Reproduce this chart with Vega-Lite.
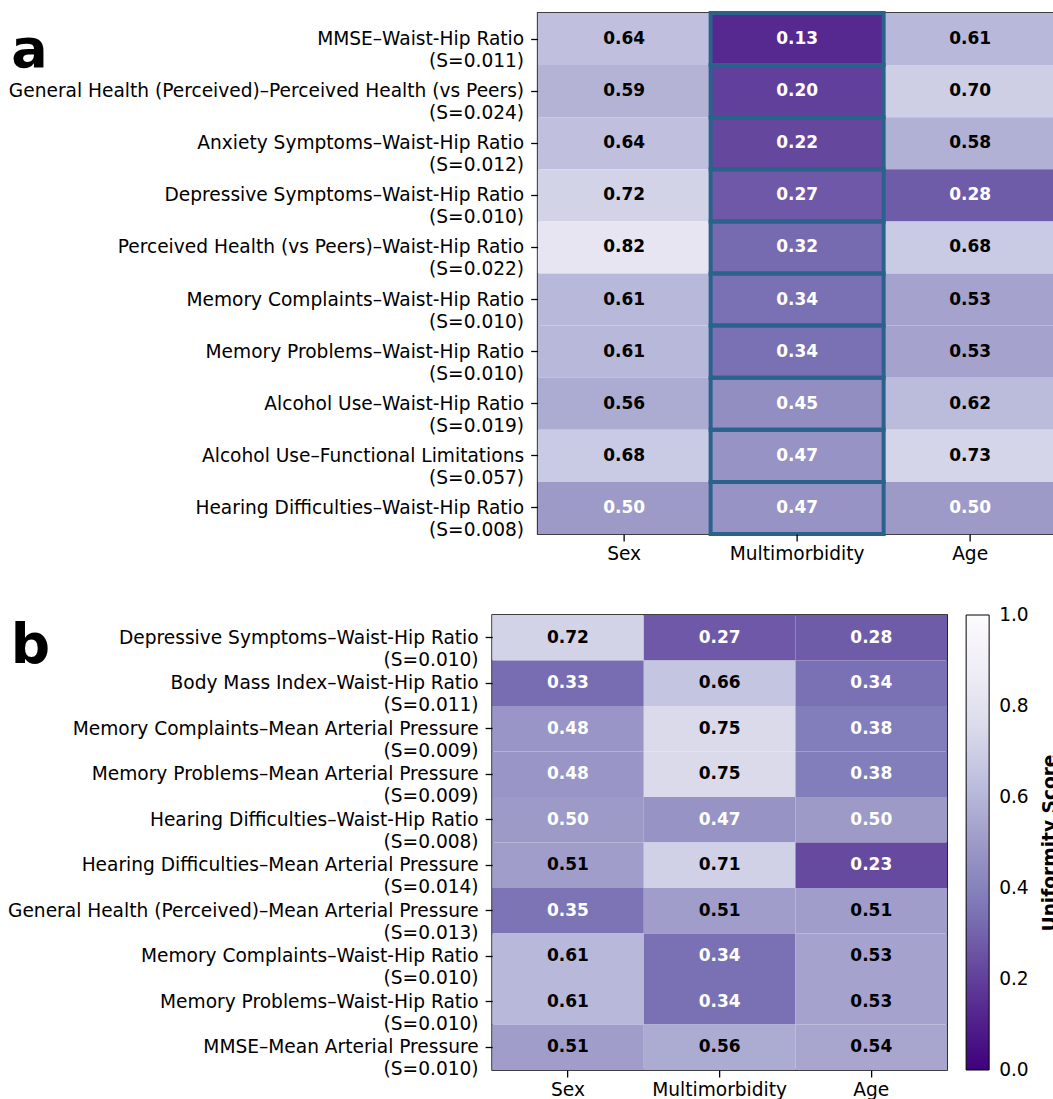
{
  "$schema": "https://vega.github.io/schema/vega-lite/v6.json",
  "padding": {"left": 6, "top": 10, "right": 0, "bottom": 0},
  "background": "white",
  "config": {
    "font": "DejaVu Sans",
    "view": {"stroke": "black", "strokeWidth": 1.5},
    "axis": {"labelFontSize": 18.6, "labelColor": "black", "tickColor": "black", "tickSize": 7, "tickWidth": 1.3, "domain": false, "labelPadding": 7, "grid": false, "labelLimit": 700}
  },
  "datasets": {
    "a": [
      {"pair": "MMSE–Waist-Hip Ratio\n(S=0.011)", "factor": "Sex", "v": 0.64},
      {"pair": "MMSE–Waist-Hip Ratio\n(S=0.011)", "factor": "Multimorbidity", "v": 0.13},
      {"pair": "MMSE–Waist-Hip Ratio\n(S=0.011)", "factor": "Age", "v": 0.61},
      {"pair": "General Health (Perceived)–Perceived Health (vs Peers)\n(S=0.024)", "factor": "Sex", "v": 0.59},
      {"pair": "General Health (Perceived)–Perceived Health (vs Peers)\n(S=0.024)", "factor": "Multimorbidity", "v": 0.20},
      {"pair": "General Health (Perceived)–Perceived Health (vs Peers)\n(S=0.024)", "factor": "Age", "v": 0.70},
      {"pair": "Anxiety Symptoms–Waist-Hip Ratio\n(S=0.012)", "factor": "Sex", "v": 0.64},
      {"pair": "Anxiety Symptoms–Waist-Hip Ratio\n(S=0.012)", "factor": "Multimorbidity", "v": 0.22},
      {"pair": "Anxiety Symptoms–Waist-Hip Ratio\n(S=0.012)", "factor": "Age", "v": 0.58},
      {"pair": "Depressive Symptoms–Waist-Hip Ratio\n(S=0.010)", "factor": "Sex", "v": 0.72},
      {"pair": "Depressive Symptoms–Waist-Hip Ratio\n(S=0.010)", "factor": "Multimorbidity", "v": 0.27},
      {"pair": "Depressive Symptoms–Waist-Hip Ratio\n(S=0.010)", "factor": "Age", "v": 0.28},
      {"pair": "Perceived Health (vs Peers)–Waist-Hip Ratio\n(S=0.022)", "factor": "Sex", "v": 0.82},
      {"pair": "Perceived Health (vs Peers)–Waist-Hip Ratio\n(S=0.022)", "factor": "Multimorbidity", "v": 0.32},
      {"pair": "Perceived Health (vs Peers)–Waist-Hip Ratio\n(S=0.022)", "factor": "Age", "v": 0.68},
      {"pair": "Memory Complaints–Waist-Hip Ratio\n(S=0.010)", "factor": "Sex", "v": 0.61},
      {"pair": "Memory Complaints–Waist-Hip Ratio\n(S=0.010)", "factor": "Multimorbidity", "v": 0.34},
      {"pair": "Memory Complaints–Waist-Hip Ratio\n(S=0.010)", "factor": "Age", "v": 0.53},
      {"pair": "Memory Problems–Waist-Hip Ratio\n(S=0.010)", "factor": "Sex", "v": 0.61},
      {"pair": "Memory Problems–Waist-Hip Ratio\n(S=0.010)", "factor": "Multimorbidity", "v": 0.34},
      {"pair": "Memory Problems–Waist-Hip Ratio\n(S=0.010)", "factor": "Age", "v": 0.53},
      {"pair": "Alcohol Use–Waist-Hip Ratio\n(S=0.019)", "factor": "Sex", "v": 0.56},
      {"pair": "Alcohol Use–Waist-Hip Ratio\n(S=0.019)", "factor": "Multimorbidity", "v": 0.45},
      {"pair": "Alcohol Use–Waist-Hip Ratio\n(S=0.019)", "factor": "Age", "v": 0.62},
      {"pair": "Alcohol Use–Functional Limitations\n(S=0.057)", "factor": "Sex", "v": 0.68},
      {"pair": "Alcohol Use–Functional Limitations\n(S=0.057)", "factor": "Multimorbidity", "v": 0.47},
      {"pair": "Alcohol Use–Functional Limitations\n(S=0.057)", "factor": "Age", "v": 0.73},
      {"pair": "Hearing Difficulties–Waist-Hip Ratio\n(S=0.008)", "factor": "Sex", "v": 0.50},
      {"pair": "Hearing Difficulties–Waist-Hip Ratio\n(S=0.008)", "factor": "Multimorbidity", "v": 0.47},
      {"pair": "Hearing Difficulties–Waist-Hip Ratio\n(S=0.008)", "factor": "Age", "v": 0.50}
    ],
    "b": [
      {"pair": "Depressive Symptoms–Waist-Hip Ratio\n(S=0.010)", "factor": "Sex", "v": 0.72},
      {"pair": "Depressive Symptoms–Waist-Hip Ratio\n(S=0.010)", "factor": "Multimorbidity", "v": 0.27},
      {"pair": "Depressive Symptoms–Waist-Hip Ratio\n(S=0.010)", "factor": "Age", "v": 0.28},
      {"pair": "Body Mass Index–Waist-Hip Ratio\n(S=0.011)", "factor": "Sex", "v": 0.33},
      {"pair": "Body Mass Index–Waist-Hip Ratio\n(S=0.011)", "factor": "Multimorbidity", "v": 0.66},
      {"pair": "Body Mass Index–Waist-Hip Ratio\n(S=0.011)", "factor": "Age", "v": 0.34},
      {"pair": "Memory Complaints–Mean Arterial Pressure\n(S=0.009)", "factor": "Sex", "v": 0.48},
      {"pair": "Memory Complaints–Mean Arterial Pressure\n(S=0.009)", "factor": "Multimorbidity", "v": 0.75},
      {"pair": "Memory Complaints–Mean Arterial Pressure\n(S=0.009)", "factor": "Age", "v": 0.38},
      {"pair": "Memory Problems–Mean Arterial Pressure\n(S=0.009)", "factor": "Sex", "v": 0.48},
      {"pair": "Memory Problems–Mean Arterial Pressure\n(S=0.009)", "factor": "Multimorbidity", "v": 0.75},
      {"pair": "Memory Problems–Mean Arterial Pressure\n(S=0.009)", "factor": "Age", "v": 0.38},
      {"pair": "Hearing Difficulties–Waist-Hip Ratio\n(S=0.008)", "factor": "Sex", "v": 0.50},
      {"pair": "Hearing Difficulties–Waist-Hip Ratio\n(S=0.008)", "factor": "Multimorbidity", "v": 0.47},
      {"pair": "Hearing Difficulties–Waist-Hip Ratio\n(S=0.008)", "factor": "Age", "v": 0.50},
      {"pair": "Hearing Difficulties–Mean Arterial Pressure\n(S=0.014)", "factor": "Sex", "v": 0.51},
      {"pair": "Hearing Difficulties–Mean Arterial Pressure\n(S=0.014)", "factor": "Multimorbidity", "v": 0.71},
      {"pair": "Hearing Difficulties–Mean Arterial Pressure\n(S=0.014)", "factor": "Age", "v": 0.23},
      {"pair": "General Health (Perceived)–Mean Arterial Pressure\n(S=0.013)", "factor": "Sex", "v": 0.35},
      {"pair": "General Health (Perceived)–Mean Arterial Pressure\n(S=0.013)", "factor": "Multimorbidity", "v": 0.51},
      {"pair": "General Health (Perceived)–Mean Arterial Pressure\n(S=0.013)", "factor": "Age", "v": 0.51},
      {"pair": "Memory Complaints–Waist-Hip Ratio\n(S=0.010)", "factor": "Sex", "v": 0.61},
      {"pair": "Memory Complaints–Waist-Hip Ratio\n(S=0.010)", "factor": "Multimorbidity", "v": 0.34},
      {"pair": "Memory Complaints–Waist-Hip Ratio\n(S=0.010)", "factor": "Age", "v": 0.53},
      {"pair": "Memory Problems–Waist-Hip Ratio\n(S=0.010)", "factor": "Sex", "v": 0.61},
      {"pair": "Memory Problems–Waist-Hip Ratio\n(S=0.010)", "factor": "Multimorbidity", "v": 0.34},
      {"pair": "Memory Problems–Waist-Hip Ratio\n(S=0.010)", "factor": "Age", "v": 0.53},
      {"pair": "MMSE–Mean Arterial Pressure\n(S=0.010)", "factor": "Sex", "v": 0.51},
      {"pair": "MMSE–Mean Arterial Pressure\n(S=0.010)", "factor": "Multimorbidity", "v": 0.56},
      {"pair": "MMSE–Mean Arterial Pressure\n(S=0.010)", "factor": "Age", "v": 0.54}
    ]
  },
  "center": true,
  "spacing": 50,
  "vconcat": [
    {
      "width": 519,
      "height": 521,
      "data": {"name": "a"},
      "encoding": {
        "x": {"field": "factor", "type": "nominal", "sort": ["Sex", "Multimorbidity", "Age"], "axis": {"title": null, "labelAngle": 0, "labelPadding": 3}},
        "y": {"field": "pair", "type": "nominal", "sort": null, "axis": {"labelExpr": "split(datum.label, '\\n')", "labelLineHeight": 22, "title": "a", "titleAngle": 0, "titleFontSize": 54, "titleFontWeight": "bold", "titleColor": "black", "titleAlign": "left", "titleBaseline": "alphabetic", "titleX": -527, "titleY": 53}}
      },
      "layer": [
        {"mark": {"type": "rect"}, "encoding": {"color": {"field": "v", "type": "quantitative", "scale": {"domain": [0, 0.125, 0.25, 0.375, 0.5, 0.625, 0.75, 0.875, 1], "range": ["#3f007d", "#54278f", "#6a51a3", "#807dba", "#9e9ac8", "#bcbddc", "#dadaeb", "#efedf5", "#fcfbfd"], "interpolate": "rgb"}, "legend": null}}},
        {"transform": [{"filter": "datum.factor === 'Multimorbidity'"}], "mark": {"type": "rect", "fillOpacity": 0, "stroke": "#2b628c", "strokeWidth": 4}},
        {"mark": {"type": "text", "fontSize": 17, "fontWeight": "bold"}, "encoding": {"text": {"field": "v", "type": "quantitative", "format": ".2f"}, "color": {"condition": {"test": "datum.v <= 0.5", "value": "white"}, "value": "black"}}}
      ]
    },
    {
      "width": 455,
      "height": 455,
      "data": {"name": "b"},
      "encoding": {
        "x": {"field": "factor", "type": "nominal", "sort": ["Sex", "Multimorbidity", "Age"], "axis": {"title": null, "labelAngle": 0, "labelPadding": 3}},
        "y": {"field": "pair", "type": "nominal", "sort": null}
      },
      "layer": [
        {"mark": {"type": "rect"}, "encoding": {
          "y": {"field": "pair", "type": "nominal", "sort": null, "axis": {"orient": "left", "labelExpr": "split(datum.label, '\\n')", "labelLineHeight": 22, "title": "b", "titleAngle": 0, "titleFontSize": 55, "titleFontWeight": "bold", "titleColor": "black", "titleAlign": "left", "titleBaseline": "alphabetic", "titleX": -482, "titleY": 47}},
          "color": {"field": "v", "type": "quantitative", "scale": {"domain": [0, 0.125, 0.25, 0.375, 0.5, 0.625, 0.75, 0.875, 1], "range": ["#3f007d", "#54278f", "#6a51a3", "#807dba", "#9e9ac8", "#bcbddc", "#dadaeb", "#efedf5", "#fcfbfd"], "interpolate": "rgb"}, "legend": {"title": null, "orient": "none", "legendX": 474, "legendY": 0, "direction": "vertical", "gradientLength": 455, "gradientThickness": 23, "values": [0.001, 0.2, 0.4, 0.6, 0.8, 0.999], "format": ".1f", "labelFontSize": 18.6, "labelColor": "black", "labelOffset": 10, "padding": 0, "gradientStrokeColor": "black", "gradientStrokeWidth": 1}}}},
        {"mark": {"type": "text", "fontSize": 17, "fontWeight": "bold"}, "encoding": {
          "y": {"field": "pair", "type": "nominal", "sort": null, "axis": {"orient": "right", "labels": false, "ticks": true, "tickSize": 155, "tickOpacity": 0, "domain": false, "title": "Uniformity Score", "titleAngle": 270, "titleFontSize": 18.6, "titleFontWeight": "bold", "titleColor": "black", "titleAlign": "center", "titleBaseline": "alphabetic", "titleX": 108, "titleY": 227.5}},
          "text": {"field": "v", "type": "quantitative", "format": ".2f"}, "color": {"condition": {"test": "datum.v <= 0.5", "value": "white"}, "value": "black"}}}
      ],
      "resolve": {"axis": {"y": "independent"}}
    }
  ],
  "resolve": {"scale": {"x": "independent", "y": "independent", "color": "independent"}, "legend": {"color": "independent"}}
}
